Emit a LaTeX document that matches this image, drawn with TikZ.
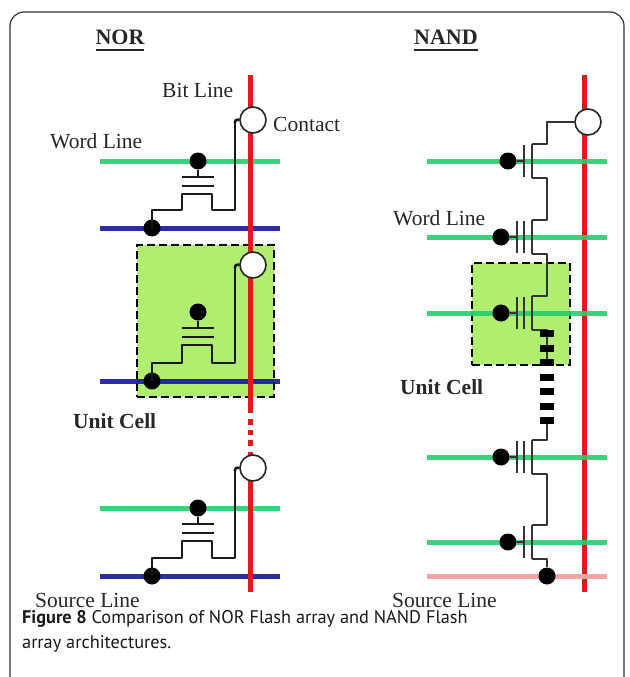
\documentclass[tikz,border=0pt]{standalone}
\usepackage{fontspec}
\setmainfont{Liberation Serif}
\newfontfamily\capfont{PT Sans}
\definecolor{wlgreen}{RGB}{40,205,110}
\definecolor{slblue}{RGB}{20,20,165}
\definecolor{blred}{RGB}{225,25,25}
\definecolor{slpink}{RGB}{245,165,165}
\definecolor{cellfill}{RGB}{175,238,110}
\newcommand\myul[1]{\setbox0\hbox{#1}\rlap{\rule[-6pt]{\wd0}{2pt}}\box0}
\newcommand\norcell[4]{%
  \node[dotn] (#1g) at (198,#2) {};
  \node[dotn] (#1s) at (152,#3) {};
  \node[contact] (#1c) at (253,#4) {};
  \draw[wire] (#1g) -- (198,{#2+16});
  \draw[wire] (182,{#2+16}) -- (214,{#2+16});
  \draw[wire] (182,{#2+25}) -- (214,{#2+25});
  \draw[wire] (#1s.center) -- (152,{#3-18}) -- (182,{#3-18}) -- (182,{#2+33}) -- (212,{#2+33}) -- (212,{#3-18}) -- (235,{#3-18}) -- (235,{#4+2});
  \draw[wire,rounded corners=3pt] (235,{#4+3}) -- (235,{#4-1}) -- (#1c.west);
}
\newcommand\nandT[3]{%
  \coordinate (#1ct) at (532,{#2-17});
  \coordinate (#1cb) at (532,{#2+17});
  \draw[nwire] (#1ct) -- (#1cb);
  \draw[nwire] (524,{#2-16}) -- (524,{#2+16});
  \ifnum#3=1
    \draw[nwire] (517,{#2-16}) -- (517,{#2+16});
    \node[dotn] (#1g) at (501,#2) {};
    \draw[nwire] (#1g) -- (517,#2);
  \else
    \node[dotn] (#1g) at (508,#2) {};
    \draw[nwire] (#1g) -- (524,#2);
  \fi
}
\begin{document}
\begin{tikzpicture}[x=1pt,y=-1pt,
  lbl/.style={inner sep=0pt, anchor=base west, font=\fontsize{21.5}{24}\selectfont, text=black!85},
  ttl/.style={inner sep=0pt, anchor=base, font=\bfseries\fontsize{22}{24}\selectfont, text=black!85},
  wire/.style={draw=black!90, line width=2.6pt, line join=round},
  nwire/.style={draw=black!80, line width=2pt, line join=round},
  dotn/.style={circle, fill=black, inner sep=0pt, minimum size=17pt},
  contact/.style={circle, draw=black!85, fill=white, line width=1.6pt, inner sep=0pt, minimum size=26pt},
  wl/.style={draw=wlgreen, line width=5pt, opacity=0.9},
  sl/.style={draw=slblue, line width=5pt, opacity=0.9},
  bl/.style={draw=blred, line width=5pt},
  cellbox/.style={fill=cellfill, draw=black, line width=2.5pt, dash pattern=on 8pt off 4pt},
  frame/.style={draw=black!80, line width=1.2pt, rounded corners=14pt},
  capt/.style={inner sep=0pt, anchor=base west, font=\capfont\fontsize{18.3}{24}\selectfont, text=black!90}]
\useasboundingbox (0,0) rectangle (629,677);
\fill[white] (0,0) rectangle (629,677);
\draw[frame] (10,690) -- (10,12) -- (624,12) -- (624,690);

% ---------- NOR ----------
\node[ttl] (nortitle) at (120,45) {\myul{NOR}};
\node[cellbox] (norcell) at (205.5,321) [minimum width=137pt, minimum height=152pt, inner sep=0pt] {};
\draw[wl] (100,161) -- (280,161);
\draw[sl] (100,228) -- (280,228);
\draw[sl] (100,381) -- (280,381);
\draw[wl] (100,508) -- (280,508);
\draw[sl] (100,576) -- (280,576);
\coordinate (nbt) at (250,75);
\coordinate (nb1) at (250,413);
\coordinate (nb2) at (250,419);
\coordinate (nb3) at (250,447);
\coordinate (nb4) at (250,452);
\coordinate (nbb) at (250,592);
\draw[bl] (nbt) -- (nb1);
\draw[bl, dash pattern=on 5.5pt off 5pt] (nb2) -- (nb3);
\draw[bl] (nb4) -- (nbb);
\norcell{na}{161}{228}{120}
\norcell{nb}{312}{381}{265}
\norcell{nc}{508}{576}{468}
\node[lbl] (bitl) at (162,97) {Bit Line};
\node[lbl] (cont) at (273,131) {Contact};
\node[lbl] (worda) at (50,148) {Word Line};
\node[lbl, font=\bfseries\fontsize{21.5}{24}\selectfont] (unita) at (73,428) {Unit Cell};
\node[lbl] (srca) at (35,607) {Source Line};

% ---------- NAND ----------
\node[ttl] (nandtitle) at (446,45) {\myul{NAND}};
\node[cellbox] (nandcell) at (521,314) [minimum width=98pt, minimum height=102pt, inner sep=0pt] {};
\coordinate (abt) at (584,75);
\coordinate (abb) at (584,592);
\draw[bl] (abt) -- (abb);
\draw[wl] (427,161) -- (607,161);
\draw[wl] (427,237) -- (607,237);
\draw[wl] (427,313) -- (607,313);
\draw[wl] (427,457) -- (607,457);
\draw[wl] (427,542) -- (607,542);
\draw[draw=slpink, line width=5pt] (427,576) -- (607,576);
\node[contact] (ac) at (588,122) {};
\nandT{ta}{161}{0}
\nandT{tb}{237}{1}
\nandT{tc}{313}{1}
\nandT{td}{457}{1}
\nandT{te}{542}{0}
\node[dotn] (as) at (547,576) {};
\draw[nwire] (ac.west) -| (547,144) -- (tact);
\draw[nwire] (tacb) -- ++(15,0) |- (tbct);
\draw[nwire] (tbcb) -- ++(15,0) |- (tcct);
\coordinate (dsa) at (547,330);
\coordinate (dsb) at (547,424);
\draw[nwire] (tccb) -- ++(15,0) -- (547,364);
\draw[draw=black, line width=14pt, dash pattern=on 7pt off 7.5pt] (dsa) -- (dsb);
\draw[nwire] (dsb) |- (tdct);
\draw[nwire] (tdcb) -- ++(15,0) |- (tect);
\draw[nwire] (tecb) -| (as);
\node[lbl] (wordb) at (393,225) {Word Line};
\node[lbl, font=\bfseries\fontsize{21.5}{24}\selectfont] (unitb) at (400,394) {Unit Cell};
\node[lbl] (srcb) at (392,607) {Source Line};

% ---------- caption ----------
\node[capt] (cap1) at (22,623) {\textbf{Figure 8} Comparison of NOR Flash array and NAND Flash};
\node[capt] (cap2) at (22,648) {array architectures.};
\end{tikzpicture}
\end{document}
